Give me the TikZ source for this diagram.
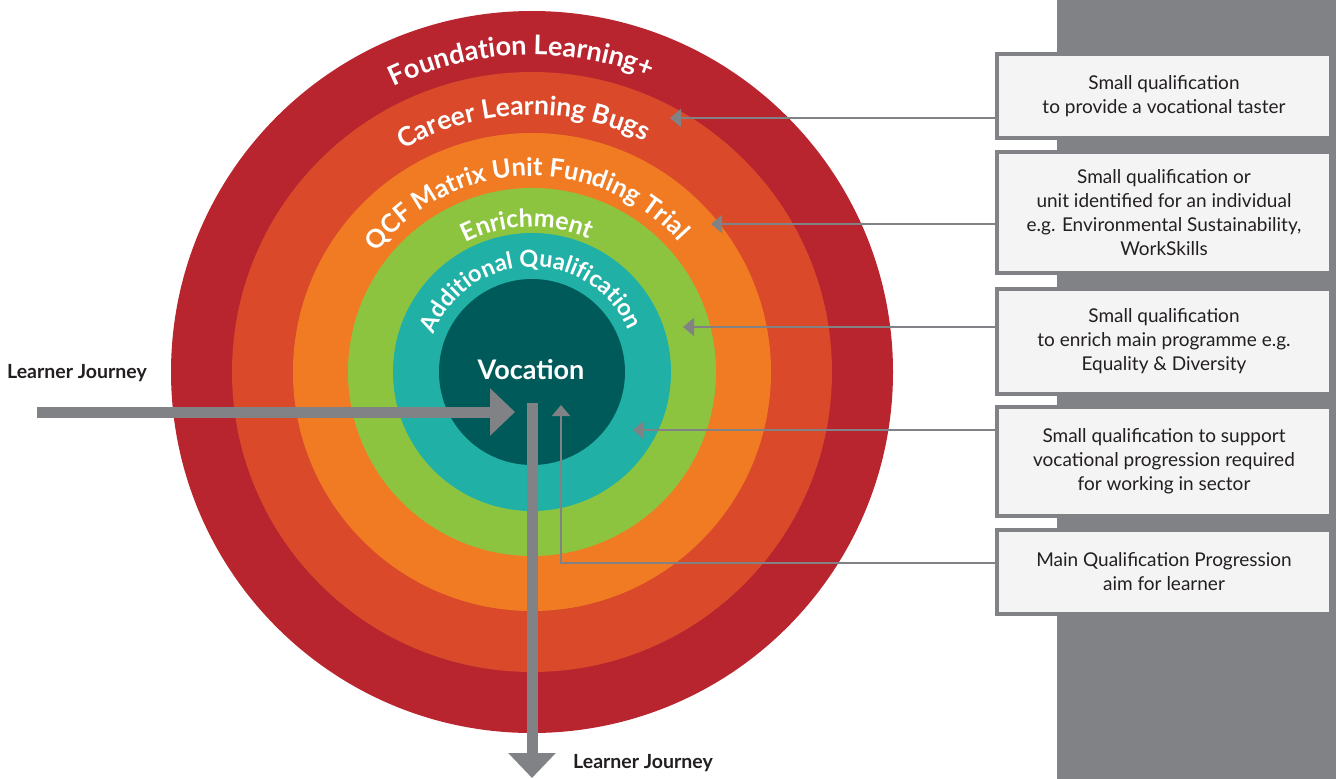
\documentclass[tikz,border=0pt]{standalone}
\usepackage{fontspec}
\setmainfont{Lato}
\usetikzlibrary{arrows.meta,decorations.text}

\definecolor{ringA}{HTML}{B8252F}
\definecolor{ringB}{HTML}{D9492A}
\definecolor{ringC}{HTML}{F07B22}
\definecolor{ringD}{HTML}{8CC43F}
\definecolor{ringE}{HTML}{20B0A6}
\definecolor{ringF}{HTML}{005A59}
\definecolor{panel}{HTML}{808285}
\definecolor{boxfill}{HTML}{F3F4F3}
\definecolor{textdark}{HTML}{231F20}

\tikzset{
  infobox/.style={draw=panel, line width=4pt, fill=boxfill, minimum width=334pt,
    inner sep=0pt, align=center, text=textdark, font=\fontsize{19}{24}\selectfont},
  pointer/.style={draw=panel, line width=2pt, -{Triangle[length=11pt,width=18pt]}},
  journey/.style={draw=panel, line width=11pt, -{Triangle[length=25pt,width=46pt]}},
  journeylabel/.style={anchor=west, text=textdark, inner sep=0pt,
    font=\bfseries\fontsize{19.5}{22}\selectfont},
  ringlabel/.style={decorate, decoration={text along path, text align=center,
    text color=white}}
}

\begin{document}
\begin{tikzpicture}[x=1pt,y=1pt]
\useasboundingbox (0,0) rectangle (1336,-779);
\fill[white] (0,0) rectangle (1336,-779);

% grey band behind the description boxes
\fill[panel] (1057,0) rectangle (1336,-779);

% concentric rings
\coordinate (c) at (532,-372);
\fill[ringA] (c) circle[radius=361];
\fill[ringB] (c) circle[radius=300];
\fill[ringC] (c) circle[radius=239];
\fill[ringD] (c) circle[radius=184];
\fill[ringE] (c) circle[radius=139];
\fill[ringF] (c) circle[radius=93];

% ring titles set along arcs over the top, centred a little left of vertical
\path[ringlabel, decoration={text={|\bfseries\fontsize{27}{27}\selectfont|Foundation Learning+}}]
  ([shift={(532,-372)}]182:317) arc[start angle=182, end angle=2, radius=317];
\path[ringlabel, decoration={text={|\bfseries\fontsize{26.5}{26}\selectfont|Career Learning Bugs}}]
  ([shift={(532,-372)}]182:257) arc[start angle=182, end angle=2, radius=257];
\path[ringlabel, decoration={text={|\bfseries\fontsize{25.5}{25}\selectfont|QCF Matrix Unit Funding Trial}}]
  ([shift={(532,-372)}]182:196) arc[start angle=182, end angle=2, radius=196];
\path[ringlabel, decoration={text={|\bfseries\fontsize{25}{25}\selectfont|Enrichment}}]
  ([shift={(532,-372)}]182:145) arc[start angle=182, end angle=2, radius=145];
\path[ringlabel, decoration={text={|\bfseries\fontsize{23.5}{23}\selectfont|Additional Qualification}}]
  ([shift={(532,-372)}]181:105) arc[start angle=181, end angle=1, radius=105];

\node[text=white, font=\bfseries\fontsize{27}{27}\selectfont] (voc) at (531,-370) {Vocation};

% description boxes
\node[infobox, minimum height=84pt] (b1) at (1164,-96)
  {Small qualification\\to provide a vocational taster};
\node[infobox, minimum height=121pt] (b2) at (1164,-212.5)
  {Small qualification or\\unit identified for an individual\\e.g. Environmental Sustainability,\\WorkSkills};
\node[infobox, minimum height=105pt] (b3) at (1164,-341.5)
  {Small qualification\\to enrich main programme e.g.\\Equality \& Diversity};
\node[infobox, minimum height=109pt] (b4) at (1164,-461.5)
  {Small qualification to support\\vocational progression required\\for working in sector};
\node[infobox, minimum height=84pt] (b5) at (1164,-572)
  {Main Qualification Progression\\aim for learner};

% pointers from the boxes into the rings
\coordinate (t1) at (670,-118);
\coordinate (t2) at (711,-224);
\coordinate (t3) at (683,-327);
\coordinate (t4) at (633,-430);
\coordinate (k5) at (561,-563);
\coordinate (t5) at (561,-405);
\draw[pointer] (b1.west |- t1) -- (t1);
\draw[pointer] (b2.west |- t2) -- (t2);
\draw[pointer] (b3.west |- t3) -- (t3);
\draw[pointer] (b4.west |- t4) -- (t4);
\draw[pointer] (b5.west |- k5) -- (k5) -- (t5);

% learner journey arrows
\coordinate (js) at (37,-412);
\coordinate (je) at (515,-412);
\coordinate (ds) at (532,-403);
\coordinate (de) at (532,-778);
\draw[journey] (js) -- (je);
\draw[journey] (ds) -- (de);

\node[journeylabel] (lj1) at (7,-373) {Learner Journey};
\node[journeylabel] (lj2) at (573,-763) {Learner Journey};
\end{tikzpicture}
\end{document}
